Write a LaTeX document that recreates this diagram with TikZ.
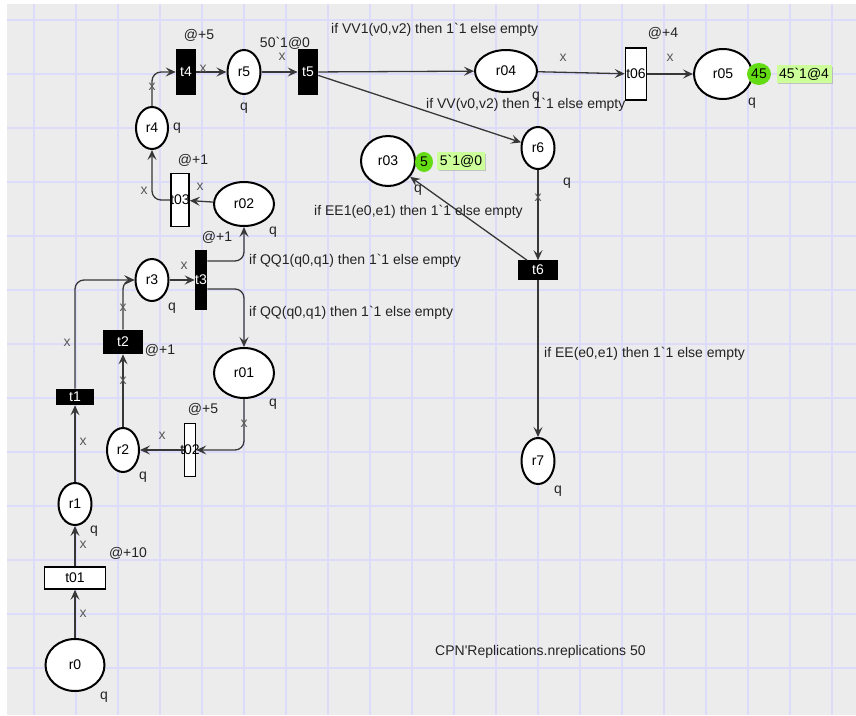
\documentclass[tikz,border=0pt]{standalone}
\usepackage{fontspec}
\setmainfont{Liberation Sans}
\usepackage{tikz}
\usetikzlibrary{arrows.meta,shapes.geometric,shadows}
\definecolor{cpnbg}{RGB}{236,236,236}
\definecolor{cpngrid}{RGB}{220,220,250}
\definecolor{cpnline}{RGB}{55,55,55}
\definecolor{cpntext}{RGB}{35,35,35}
\definecolor{cpnx}{RGB}{90,90,90}
\definecolor{cpntok}{RGB}{100,220,20}
\definecolor{cpnmark}{RGB}{204,255,153}
\newcommand{\cpnbq}{\textasciigrave}
\newcommand{\cpnfont}{\fontsize{14}{16}\selectfont}
\tikzset{
  cpnplace/.style={ellipse,draw=black,line width=2pt,fill=white,
                   inner sep=0pt,font=\cpnfont},
  cpntrans/.style={rectangle,draw=black,line width=1.6pt,inner sep=0pt,
                   font=\cpnfont},
  cpnblack/.style={cpntrans,fill=black,text=white},
  cpnwhite/.style={cpntrans,fill=white,text=black},
  cpnarc/.style={-{Stealth[length=10pt,width=9pt,inset=4pt]},
                 draw=cpnline,line width=1.3pt},
  cpnbend/.style={cpnarc,rounded corners=9pt},
  cpnlabel/.style={font=\cpnfont,text=cpntext,inner sep=1pt},
  cpnvar/.style={cpnlabel,text=cpnx},
  cpntoken/.style={ellipse,fill=cpntok,inner sep=0pt,font=\cpnfont},
  cpnmarking/.style={fill=cpnmark,inner sep=2.5pt,font=\cpnfont,
                     drop shadow={shadow xshift=1.5pt,shadow yshift=-1.5pt,
                                  fill=black!35,opacity=0.6}},
  cpngridline/.style={draw=cpngrid,line width=1.6pt}
}

\begin{document}
\begin{tikzpicture}[x=1pt,y=-1pt]
  \useasboundingbox (0,0) rectangle (856,715);
  \fill[white] (0,0) rectangle (856,715);
  \fill[cpnbg] (7,4) rectangle (856,715);
  \foreach \gx in {34,76,...,834}
    \draw[cpngridline] (\gx,4) -- (\gx,715);
  \foreach \gy in {20,74,...,668}
    \draw[cpngridline] (7,\gy) -- (856,\gy);

  % places
  \node[cpnplace,minimum width=33pt,minimum height=44pt] (r5) at (244,72) {r5};
  \node[cpnplace,minimum width=32pt,minimum height=42pt] (r4) at (152,128) {r4};
  \node[cpnplace,minimum width=54pt,minimum height=50pt] (r03) at (388,161) {r03};
  \node[cpnplace,minimum width=33pt,minimum height=42pt] (r6) at (538,148) {r6};
  \node[cpnplace,minimum width=62pt,minimum height=42pt] (r04) at (506,71) {r04};
  \node[cpnplace,minimum width=58pt,minimum height=50pt] (r05) at (723,74) {r05};
  \node[cpnplace,minimum width=60pt,minimum height=44pt] (r02) at (244,204) {r02};
  \node[cpnplace,minimum width=33pt,minimum height=42pt] (r3) at (152,280) {r3};
  \node[cpnplace,minimum width=60pt,minimum height=50pt] (r01) at (244,373) {r01};
  \node[cpnplace,minimum width=32pt,minimum height=44pt] (r2) at (123,450) {r2};
  \node[cpnplace,minimum width=33pt,minimum height=42pt] (r1) at (75,504) {r1};
  \node[cpnplace,minimum width=59pt,minimum height=52pt] (r0) at (75,665) {r0};
  \node[cpnplace,minimum width=33pt,minimum height=46pt] (r7) at (538,461) {r7};

  % transitions
  \node[cpnblack,minimum width=19pt,minimum height=45pt] (t4) at (186,72) {\makebox[0pt]{t4}};
  \node[cpnblack,minimum width=19pt,minimum height=45pt] (t5) at (308,72) {\makebox[0pt]{t5}};
  \node[cpnwhite,minimum width=21pt,minimum height=52pt] (t06) at (636,74) {\makebox[0pt]{t06}};
  \node[cpnwhite,minimum width=18pt,minimum height=53pt] (t03) at (180,200) {\makebox[0pt]{t03}};
  \node[cpnblack,minimum width=11pt,minimum height=58pt] (t3) at (201,280) {\makebox[0pt]{t3}};
  \node[cpnblack,minimum width=38pt,minimum height=23pt] (t2) at (123,342) {\makebox[0pt]{t2}};
  \node[cpnblack,minimum width=37pt,minimum height=15pt] (t1) at (75,397) {\makebox[0pt]{t1}};
  \node[cpnwhite,minimum width=11pt,minimum height=53pt] (t02) at (190,450) {\makebox[0pt]{t02}};
  \node[cpnwhite,minimum width=61pt,minimum height=22pt] (t01) at (75,578) {\makebox[0pt]{t01}};
  \node[cpnblack,minimum width=39pt,minimum height=18pt] (t6) at (538,270) {\makebox[0pt]{t6}};

  % markings
  \node[cpntoken,minimum width=18pt,minimum height=20pt] (k03) at (424,162) {5};
  \node[cpnmarking] (m03) at (461,161) {5\cpnbq1@0};
  \node[cpntoken,minimum width=24pt,minimum height=22pt] (k05) at (759,74) {45};
  \node[cpnmarking] (m05) at (804,74) {45\cpnbq1@4};

  % arcs
  \draw[cpnarc] (r0) -- (t01);
  \draw[cpnarc] (t01) -- (r1);
  \draw[cpnarc] (r1) -- (t1);
  \draw[cpnbend] (t1.north) |- (r3.west);
  \draw[cpnarc] (r2) -- (t2);
  \draw[cpnbend] (t2.north) |- (r3.west);
  \draw[cpnarc] (r3) -- (t3);
  \draw[cpnbend] ([yshift=19pt]t3.east) -| (r02.south);
  \draw[cpnbend] ([yshift=-9pt]t3.east) -| (r01.north);
  \draw[cpnbend] (r01.south) |- (t02.east);
  \draw[cpnarc] (t02) -- (r2);
  \draw[cpnarc] (r02) -- (t03);
  \draw[cpnbend] (t03.west) -| (r4.south);
  \draw[cpnbend] (r4.north) |- (t4.west);
  \draw[cpnarc] (t4) -- (r5);
  \draw[cpnarc] (r5) -- (t5);
  \draw[cpnarc] (t5) -- (r04);
  \draw[cpnarc] (t5) -- (r6);
  \draw[cpnarc] (r04) -- (t06);
  \draw[cpnarc] (t06) -- (r05);
  \draw[cpnarc] (r6) -- (t6);
  \draw[cpnarc] ([xshift=-11pt]t6.north) -- (r03);
  \draw[cpnarc] (t6) -- (r7);

  % inscriptions
  \node[cpnlabel] (d4) at (199,35) {@+5};
  \node[cpnlabel] (d5) at (285,43) {50\cpnbq1@0};
  \node[cpnvar] (x45) at (203,69) {x};
  \node[cpnvar] (x55) at (282,57) {x};
  \node[cpnvar] (x44) at (152,87) {x};
  \node[cpnlabel] (q5) at (244,108) {q};
  \node[cpnlabel] (q4) at (177,128) {q};
  \node[cpnlabel,anchor=west] (g1) at (330,30) {if VV1(v0,v2) then 1\cpnbq1 else empty};
  \node[cpnlabel,anchor=west] (g2) at (425,105) {if VV(v0,v2) then 1\cpnbq1 else empty};
  \node[cpnvar] (x46) at (563,58) {x};
  \node[cpnlabel] (q04) at (536,97) {q};
  \node[cpnlabel] (d06) at (663,33) {@+4};
  \node[cpnvar] (x65) at (670,58) {x};
  \node[cpnlabel] (q05) at (752,103) {q};
  \node[cpnlabel] (q03) at (418,190) {q};
  \node[cpnlabel,anchor=west] (g3) at (313,212) {if EE1(e0,e1) then 1\cpnbq1 else empty};
  \node[cpnvar] (x66) at (538,198) {x};
  \node[cpnlabel] (q6) at (567,183) {q};
  \node[cpnlabel,anchor=west] (g4) at (543,354) {if EE(e0,e1) then 1\cpnbq1 else empty};
  \node[cpnlabel] (q7) at (558,491) {q};
  \node[cpnlabel] (d03) at (193,160) {@+1};
  \node[cpnvar] (x203) at (200,187) {x};
  \node[cpnvar] (x034) at (144,191) {x};
  \node[cpnlabel] (d3) at (217,237) {@+1};
  \node[cpnlabel] (q02) at (273,232) {q};
  \node[cpnlabel,anchor=west] (g5) at (248,261) {if QQ1(q0,q1) then 1\cpnbq1 else empty};
  \node[cpnlabel,anchor=west] (g6) at (248,313) {if QQ(q0,q1) then 1\cpnbq1 else empty};
  \node[cpnvar] (x33) at (184,266) {x};
  \node[cpnlabel] (q3) at (172,308) {q};
  \node[cpnvar] (x23) at (123,308) {x};
  \node[cpnvar] (x13) at (67,343) {x};
  \node[cpnlabel] (d2) at (160,350) {@+1};
  \node[cpnvar] (x22) at (123,381) {x};
  \node[cpnvar] (x022) at (162,436) {x};
  \node[cpnlabel] (d02) at (203,409) {@+5};
  \node[cpnlabel] (q2) at (143,477) {q};
  \node[cpnvar] (x102) at (244,424) {x};
  \node[cpnlabel] (q01) at (273,404) {q};
  \node[cpnvar] (x11) at (83,442) {x};
  \node[cpnvar] (x011) at (83,545) {x};
  \node[cpnlabel] (q1) at (94,531) {q};
  \node[cpnlabel] (d01) at (128,553) {@+10};
  \node[cpnvar] (x001) at (83,614) {x};
  \node[cpnlabel] (q0) at (104,697) {q};
  \node[cpnlabel,anchor=west] (rep) at (434,652) {CPN\textquotesingle Replications.nreplications 50};
\end{tikzpicture}
\end{document}
